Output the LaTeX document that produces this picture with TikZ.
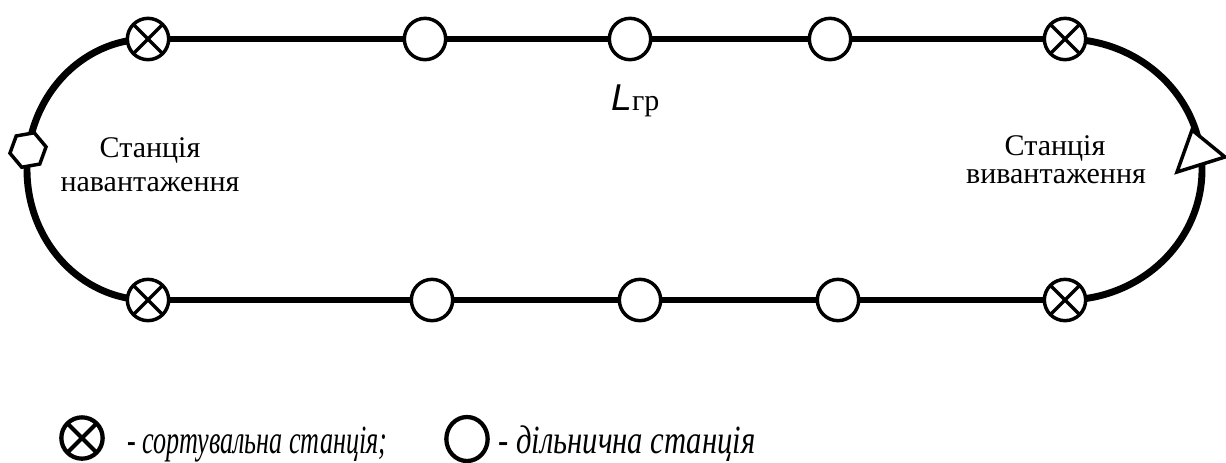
\documentclass[tikz,border=0pt]{standalone}
\usepackage{fontspec}
\setmainfont{Liberation Serif}
\newfontfamily\Lfont{Liberation Sans}
\usetikzlibrary{shapes.geometric}
\begin{document}
\begin{tikzpicture}[x=0.75pt,y=-0.75pt,
  track/.style={line width=5.2pt},
  ring/.style={line width=2.6pt},
  halt/.style={circle,draw,ring,fill=white,minimum size=31pt,inner sep=0pt},
  sortst/.style={halt,path picture={
     \draw[line width=2.5pt] (path picture bounding box.north west) -- (path picture bounding box.south east);
     \draw[line width=2.5pt] (path picture bounding box.north east) -- (path picture bounding box.south west);}},
  lbl/.style={font=\fontsize{22.5}{25}\selectfont,anchor=base,inner sep=0pt},
  leg/.style={font=\fontsize{30}{32}\selectfont\itshape,anchor=base west,inner sep=0pt}
]
\useasboundingbox (0,0) rectangle (1226,462);
% station positions
\coordinate (T1) at (148,39);
\coordinate (T2) at (425,39);
\coordinate (T3) at (630,39);
\coordinate (T4) at (830,39);
\coordinate (T5) at (1065,39);
\coordinate (B1) at (148,300);
\coordinate (B2) at (432,300);
\coordinate (B3) at (640,300);
\coordinate (B4) at (838,300);
\coordinate (B5) at (1065,300);
% tracks
\draw[track] (T1) -- (T5);
\draw[track] (B1) -- (B5);
\draw[track] (T1) arc[start angle=270,end angle=90,x radius=121,y radius=130.5];
\draw[track] (T5) arc[start angle=270,end angle=450,x radius=137,y radius=130.5];
% stations
\node[sortst] (t1) at (T1) {};
\node[halt] (t2) at (T2) {};
\node[halt] (t3) at (T3) {};
\node[halt] (t4) at (T4) {};
\node[sortst] (t5) at (T5) {};
\node[sortst] (b1) at (B1) {};
\node[halt] (b2) at (B2) {};
\node[halt] (b3) at (B3) {};
\node[halt] (b4) at (B4) {};
\node[sortst] (b5) at (B5) {};
% loading station (hexagon)
\node[regular polygon,regular polygon sides=6,draw,ring,fill=white,minimum size=27.5pt,inner sep=0pt,rotate=10] (load) at (28,150) {};
% unloading station (triangle)
\coordinate (U1) at (1192,130);
\coordinate (U2) at (1225,157);
\coordinate (U3) at (1177,172);
\draw[ring,fill=white,line join=miter] (U1) -- (U2) -- (U3) -- cycle;
% labels
\node[lbl] (la) at (150,157) {Станція};
\node[lbl] (lb) at (150,191) {навантаження};
\node[lbl] (ra) at (1055,155) {Станція};
\node[lbl] (rb) at (1056,183) {вивантаження};
\node[anchor=base west,inner sep=0pt] (lgr) at (611,110) {{\fontsize{28}{30}\selectfont\Lfont\itshape L}{\fontsize{22.5}{25}\selectfont гр}};
% legend
\node[circle,draw,line width=3.2pt,minimum size=31pt,inner sep=0pt,path picture={
     \draw[line width=3pt] (path picture bounding box.north west) -- (path picture bounding box.south east);
     \draw[line width=3pt] (path picture bounding box.north east) -- (path picture bounding box.south west);}] (k1) at (82,438) {};
\node[leg] (k1t) at (127,453) {\resizebox{195pt}{\height}{- сортувальна станція;}};
\node[ellipse,draw,line width=3.2pt,minimum width=31pt,minimum height=33pt,inner sep=0pt] (k2) at (467,439) {};
\node[leg] (k2t) at (498,453) {\resizebox{193pt}{\height}{- дільнична станція}};
\end{tikzpicture}
\end{document}
